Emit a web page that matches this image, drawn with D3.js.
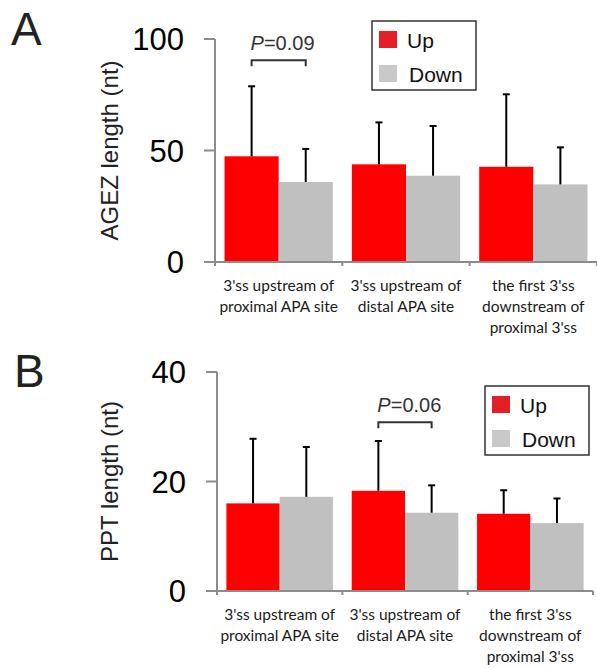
<!DOCTYPE html>
<html>
<head>
<meta charset="utf-8">
<script src="https://cdnjs.cloudflare.com/ajax/libs/d3/7.8.5/d3.min.js"></script>
<style>
    body { margin: 0; background: #fff; }
    svg { display: block; }
    .tick-label { font-family: "Liberation Sans", Arial, sans-serif; }
    .cat-label { font-family: Lato, "Open Sans", sans-serif; font-size: 15.5px; fill: #1a1a1a; }
</style>
</head>
<body>
<svg id="chart" width="597" height="668"></svg>
<script>
// categories shared by both panels (one entry per line of the label)
const categories = [
    ["3'ss upstream of", "proximal APA site"],
    ["3'ss upstream of", "distal APA site"],
    ["the first 3'ss", "downstream of", "proximal 3'ss"]
];
const seriesNames = ["Up", "Down"];

// panel A: AGEZ length
const agezUp = [47.4, 43.8, 42.7];
const agezUpErr = [78.8, 62.6, 75.2];
const agezDown = [35.9, 38.7, 34.8];
const agezDownErr = [50.7, 61.0, 51.4];
const agezTicks = [0, 50, 100];

// panel B: PPT length
const pptUp = [16.0, 18.3, 14.1];
const pptUpErr = [27.8, 27.4, 18.4];
const pptDown = [17.2, 14.3, 12.4];
const pptDownErr = [26.3, 19.3, 16.9];
const pptTicks = [0, 20, 40];

const barColors = ["#ff0000", "#c0c0c0"];
const legendColors = ["#e31e24", "#c8c8c8"];

const svg = d3.select("#chart");

function drawPanel(cfg) {
    const g = svg.append("g");

    const y = d3.scaleLinear()
        .domain([0, cfg.ticks[cfg.ticks.length - 1]])
        .range([cfg.y0, cfg.y1]);

    const x = d3.scaleBand()
        .domain(d3.range(categories.length))
        .range([cfg.x0, cfg.x1])
        .paddingInner(0.15)
        .paddingOuter(0.075);

    const xBand = d3.scaleBand()
        .domain(d3.range(categories.length))
        .range([cfg.x0, cfg.x1]);

    const xSub = d3.scaleBand()
        .domain(d3.range(seriesNames.length))
        .range([0, x.bandwidth()]);

    // panel letter
    g.append("text")
        .attr("x", cfg.letterX)
        .attr("y", cfg.letterY)
        .attr("font-family", "Liberation Sans, Arial, sans-serif")
        .attr("font-size", 46)
        .attr("fill", "#222")
        .text(cfg.letter);

    // bars
    const rows = [];
    categories.forEach((c, i) => {
        rows.push({ cat: i, s: 0, v: cfg.up[i], e: cfg.upErr[i] });
        rows.push({ cat: i, s: 1, v: cfg.down[i], e: cfg.downErr[i] });
    });

    g.selectAll("rect.bar")
        .data(rows)
        .enter().append("rect")
        .attr("class", "bar")
        .attr("x", d => x(d.cat) + xSub(d.s))
        .attr("width", xSub.bandwidth())
        .attr("y", d => y(d.v))
        .attr("height", d => y(0) - y(d.v))
        .attr("fill", d => barColors[d.s]);

    // error bars (upper only)
    const err = g.selectAll("g.err")
        .data(rows)
        .enter().append("g")
        .attr("class", "err")
        .attr("transform", d => `translate(${x(d.cat) + xSub(d.s) + xSub.bandwidth() / 2},0)`);
    err.append("line")
        .attr("y1", d => y(d.v))
        .attr("y2", d => y(d.e))
        .attr("stroke", "#000")
        .attr("stroke-width", 2);
    err.append("line")
        .attr("x1", -3.5).attr("x2", 3.5)
        .attr("y1", d => y(d.e))
        .attr("y2", d => y(d.e))
        .attr("stroke", "#000")
        .attr("stroke-width", 2);

    // y axis
    g.append("line")
        .attr("x1", cfg.x0).attr("x2", cfg.x0)
        .attr("y1", y(cfg.ticks[cfg.ticks.length - 1])).attr("y2", y(0) + 4)
        .attr("stroke", "#8c8c8c").attr("stroke-width", 2);
    g.selectAll("line.ytick")
        .data(cfg.ticks)
        .enter().append("line")
        .attr("class", "ytick")
        .attr("x1", cfg.x0 - 11).attr("x2", cfg.x0)
        .attr("y1", d => y(d)).attr("y2", d => y(d))
        .attr("stroke", "#8c8c8c").attr("stroke-width", 2);
    g.selectAll("text.ylab")
        .data(cfg.ticks)
        .enter().append("text")
        .attr("class", "tick-label")
        .attr("x", cfg.x0 - 31)
        .attr("y", d => y(d))
        .attr("dy", "0.36em")
        .attr("text-anchor", "end")
        .attr("font-size", 31)
        .attr("fill", "#000")
        .text(d => d);

    // x axis
    g.append("line")
        .attr("x1", cfg.x0 - 11).attr("x2", cfg.x1)
        .attr("y1", y(0)).attr("y2", y(0))
        .attr("stroke", "#8c8c8c").attr("stroke-width", 2);
    g.selectAll("line.xtick")
        .data(d3.range(1, categories.length + 1))
        .enter().append("line")
        .attr("class", "xtick")
        .attr("x1", d => xBand(d - 1) + xBand.bandwidth())
        .attr("x2", d => xBand(d - 1) + xBand.bandwidth())
        .attr("y1", y(0)).attr("y2", y(0) + 4)
        .attr("stroke", "#8c8c8c").attr("stroke-width", 2);

    // category labels
    const cl = g.selectAll("text.cat-label")
        .data(categories)
        .enter().append("text")
        .attr("class", "cat-label")
        .attr("text-anchor", "middle")
        .attr("transform", (d, i) => `translate(${xBand(i) + xBand.bandwidth() / 2},${y(0) + 29})`);
    cl.selectAll("tspan")
        .data(d => d)
        .enter().append("tspan")
        .attr("x", 0)
        .attr("y", (d, i) => i * 21)
        .text(d => d);

    // y title
    g.append("text")
        .attr("transform", `translate(${cfg.titleX},${(y(0) + y(cfg.ticks[cfg.ticks.length - 1])) / 2}) rotate(-90)`)
        .attr("text-anchor", "middle")
        .attr("font-family", "Liberation Sans, Arial, sans-serif")
        .attr("font-size", 24)
        .attr("fill", "#222")
        .text(cfg.yTitle);

    // significance bracket
    const bi = cfg.sigCat;
    const bx1 = x(bi) + xSub(0) + xSub.bandwidth() / 2;
    const bx2 = x(bi) + xSub(1) + xSub.bandwidth() / 2;
    const by = y(cfg.sigLevel);
    g.append("path")
        .attr("d", `M${bx1},${by + 6}V${by}H${bx2}V${by + 6}`)
        .attr("fill", "none")
        .attr("stroke", "#333")
        .attr("stroke-width", 2);
    const pt = g.append("text")
        .attr("x", bx1 - 1)
        .attr("y", by - 10)
        .attr("font-family", "Liberation Sans, Arial, sans-serif")
        .attr("font-size", 20)
        .attr("fill", "#333");
    pt.append("tspan").attr("font-style", "italic").text("P");
    pt.append("tspan").text("=" + cfg.sigText);

    // legend
    const lg = g.append("g").attr("transform", `translate(${cfg.legX},${cfg.legY})`);
    lg.append("rect")
        .attr("width", 104).attr("height", 69)
        .attr("fill", "#fff")
        .attr("stroke", "#333").attr("stroke-width", 1.5);
    seriesNames.forEach((s, i) => {
        lg.append("rect")
            .attr("x", 7).attr("y", 10 + i * 34)
            .attr("width", 18).attr("height", 17)
            .attr("fill", legendColors[i]);
        lg.append("text")
            .attr("x", i === 0 ? 35 : 37)
            .attr("y", 19 + i * 34)
            .attr("dy", "0.36em")
            .attr("font-family", "Liberation Sans, Arial, sans-serif")
            .attr("font-size", 21)
            .attr("fill", "#111")
            .text(s);
    });
}

drawPanel({
    letter: "A", letterX: 11, letterY: 45,
    up: agezUp, upErr: agezUpErr, down: agezDown, downErr: agezDownErr,
    ticks: agezTicks, y0: 262, y1: 39, x0: 215, x1: 597,
    titleX: 118, yTitle: "AGEZ length (nt)",
    sigCat: 0, sigLevel: 90.5, sigText: "0.09",
    legX: 372, legY: 21
});

drawPanel({
    letter: "B", letterX: 14, letterY: 387,
    up: pptUp, upErr: pptUpErr, down: pptDown, downErr: pptDownErr,
    ticks: pptTicks, y0: 591, y1: 372, x0: 217, x1: 593,
    titleX: 118, yTitle: "PPT length (nt)",
    sigCat: 1, sigLevel: 30.8, sigText: "0.06",
    legX: 485, legY: 386
});
</script>
</body>
</html>
